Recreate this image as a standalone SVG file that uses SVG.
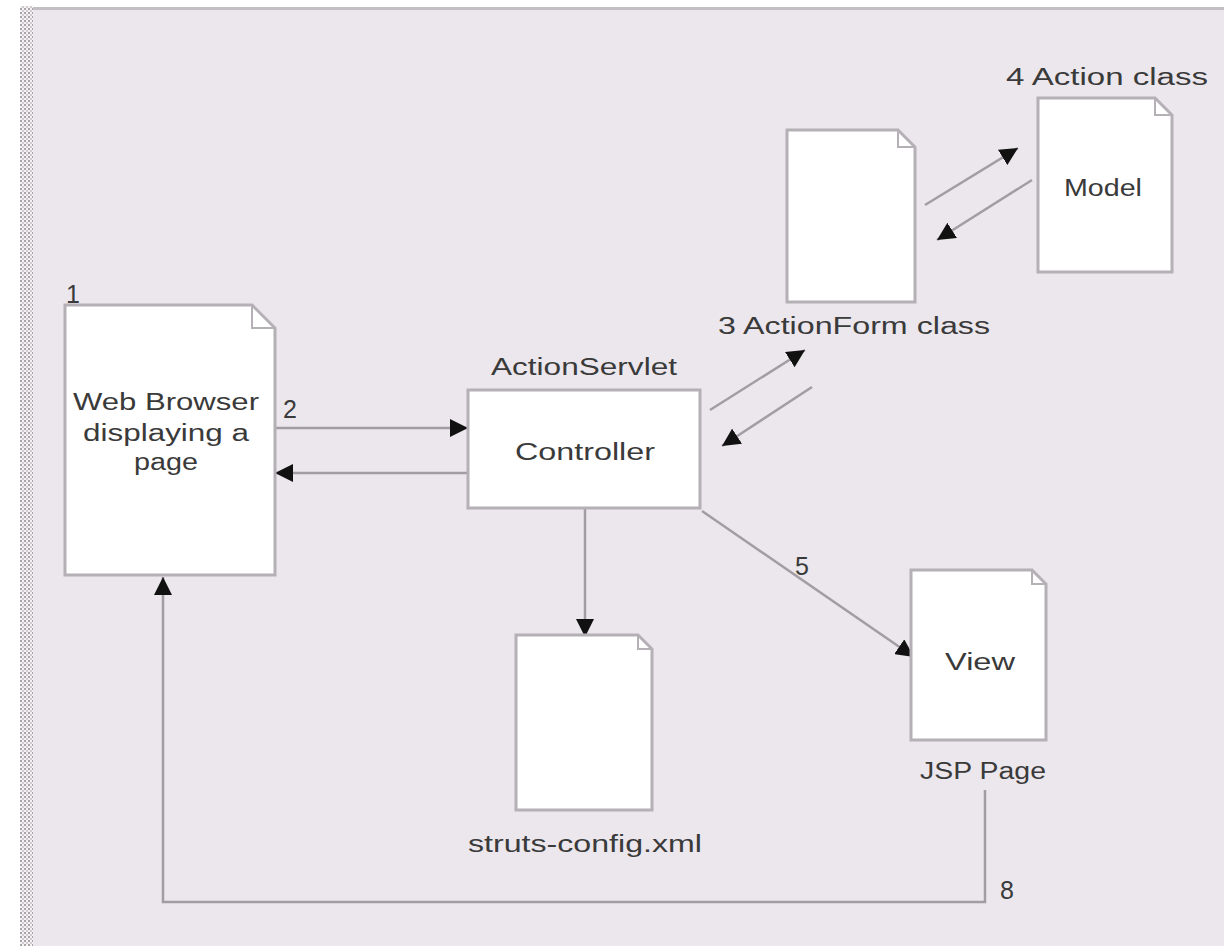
<svg xmlns="http://www.w3.org/2000/svg" width="1224" height="946" viewBox="0 0 1224 946">
<style>
.doc{fill:#ffffff;stroke:#b4b0b6;stroke-width:3}
.fold{fill:none;stroke:#b4b0b6;stroke-width:2}
.t{font-family:"Liberation Sans",Arial,sans-serif;font-size:23px;fill:#3a3a3a}
.n{font-family:"Liberation Sans",Arial,sans-serif;font-size:25px;fill:#3a3a3a}
.c{stroke:#a29ca4;stroke-width:2.5;fill:none}
</style>
<defs>
<marker id="ah" markerUnits="userSpaceOnUse" markerWidth="20" markerHeight="18" refX="18" refY="9" orient="auto">
<path d="M0,0 L18,9 L0,18 Z" fill="#111"/>
</marker>
<pattern id="dots" width="4" height="4" patternUnits="userSpaceOnUse">
<rect width="4" height="4" fill="#f4f2f4"/>
<rect width="2" height="2" fill="#a8a4a8"/>
<rect x="2" y="2" width="2" height="2" fill="#cfcbcf"/>
</pattern>
</defs>
<rect x="0" y="0" width="1224" height="946" fill="#ffffff"/>
<rect x="33" y="10" width="1191" height="936" fill="#ebe7ec"/>
<rect x="20" y="6" width="13" height="940" fill="url(#dots)"/>
<rect x="33" y="7" width="1191" height="3" fill="#c2bec4"/>

<g id="connectors">
<line class="c" x1="275" y1="428" x2="468" y2="428" marker-end="url(#ah)"/>
<line class="c" x1="468" y1="473" x2="275" y2="473" marker-end="url(#ah)"/>
<line class="c" x1="710" y1="410" x2="805" y2="350" marker-end="url(#ah)"/>
<line class="c" x1="812" y1="387" x2="722" y2="446" marker-end="url(#ah)"/>
<line class="c" x1="925" y1="205" x2="1018" y2="148" marker-end="url(#ah)"/>
<line class="c" x1="1032" y1="180" x2="937" y2="240" marker-end="url(#ah)"/>
<line class="c" x1="585" y1="508" x2="585" y2="637" marker-end="url(#ah)"/>
<line class="c" x1="702" y1="511" x2="914" y2="657" marker-end="url(#ah)"/>
<polyline class="c" points="985,790 985,902 163,902 163,577" marker-end="url(#ah)"/>
<text class="n" x="283" y="418">2</text>
<text class="n" x="795" y="575">5</text>
<text class="n" x="1000" y="899">8</text>
</g>

<g id="browser">
<path class="doc" d="M65,305 H252 L275,328 V575 H65 Z"/>
<path class="fold" d="M252,305 V328 H275"/>
<text class="n" x="66" y="303">1</text>
<text class="t" x="166" y="410" text-anchor="middle" textLength="186" lengthAdjust="spacingAndGlyphs">Web Browser</text>
<text class="t" x="166" y="441" text-anchor="middle" textLength="166" lengthAdjust="spacingAndGlyphs">displaying a</text>
<text class="t" x="166" y="470" text-anchor="middle" textLength="64" lengthAdjust="spacingAndGlyphs">page</text>
</g>

<g id="controller">
<rect class="doc" x="468" y="390" width="232" height="118"/>
<text class="t" x="584" y="375" text-anchor="middle" textLength="186" lengthAdjust="spacingAndGlyphs">ActionServlet</text>
<text class="t" x="585" y="460" text-anchor="middle" textLength="140" lengthAdjust="spacingAndGlyphs">Controller</text>
</g>

<g id="actionform">
<path class="doc" d="M787,130 H898 L915,147 V302 H787 Z"/>
<path class="fold" d="M898,130 V147 H915"/>
<text class="t" x="854" y="334" text-anchor="middle" textLength="272" lengthAdjust="spacingAndGlyphs">3 ActionForm class</text>
</g>

<g id="action">
<path class="doc" d="M1038,98 H1155 L1172,115 V272 H1038 Z"/>
<path class="fold" d="M1155,98 V115 H1172"/>
<text class="t" x="1107" y="85" text-anchor="middle" textLength="202" lengthAdjust="spacingAndGlyphs">4 Action class</text>
<text class="t" x="1103" y="196" text-anchor="middle" textLength="78" lengthAdjust="spacingAndGlyphs">Model</text>
</g>

<g id="struts">
<path class="doc" d="M516,635 H638 L652,649 V810 H516 Z"/>
<path class="fold" d="M638,635 V649 H652"/>
<text class="t" x="585" y="852" text-anchor="middle" textLength="234" lengthAdjust="spacingAndGlyphs">struts-config.xml</text>
</g>

<g id="view">
<path class="doc" d="M911,570 H1032 L1046,584 V740 H911 Z"/>
<path class="fold" d="M1032,570 V584 H1046"/>
<text class="t" x="980" y="670" text-anchor="middle" textLength="70" lengthAdjust="spacingAndGlyphs">View</text>
<text class="t" x="983" y="779" text-anchor="middle" textLength="126" lengthAdjust="spacingAndGlyphs">JSP Page</text>
</g>
</svg>
